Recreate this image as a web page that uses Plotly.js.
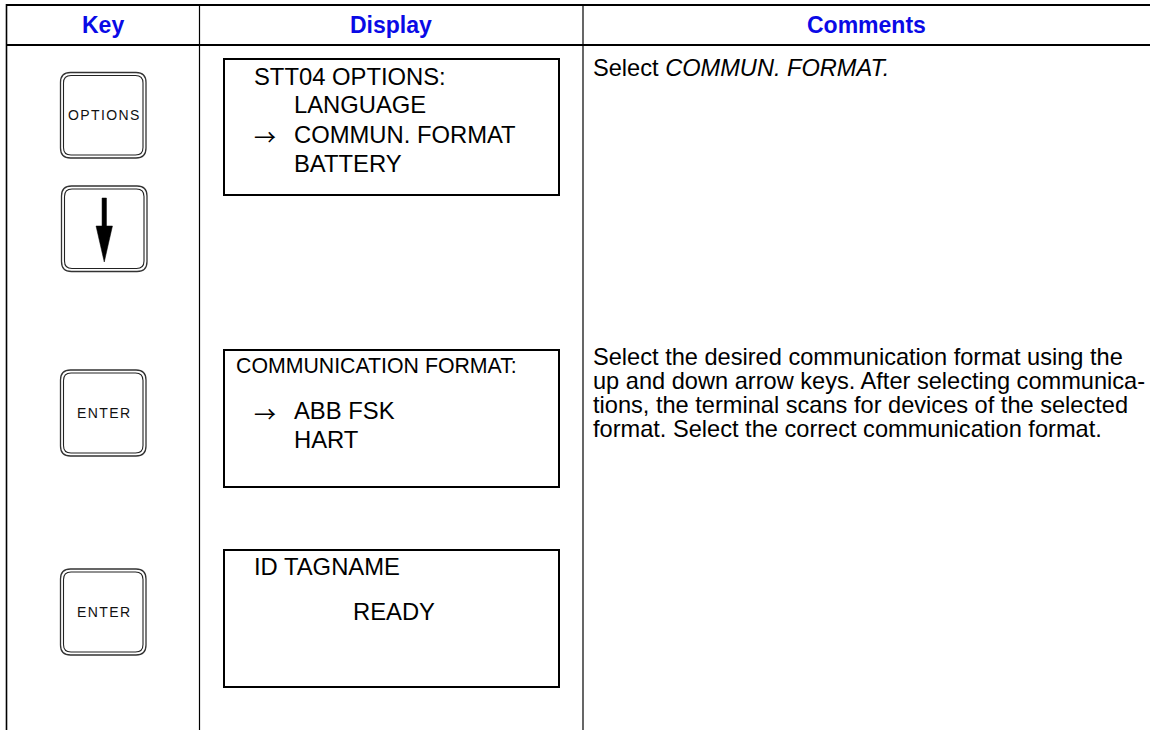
<!DOCTYPE html>
<html>
<head>
<meta charset="utf-8">
<script src="https://cdn.plot.ly/plotly-3.0.1.min.js"></script>
<style>
  html, body { margin: 0; padding: 0; background: #ffffff; }
  #chart { width: 1150px; height: 730px; }
</style>
</head>
<body>
<div id="chart"></div>
<script>
// ---------------- DATA ----------------
const columnHeaders = ['Key', 'Display', 'Comments'];
const keyLabels = ['OPTIONS', 'DOWN', 'ENTER', 'ENTER'];
const screen1Lines = ['STT04 OPTIONS:', 'LANGUAGE', 'COMMUN. FORMAT', 'BATTERY'];
const screen1Pointer = [false, false, true, false];
const screen2Title = ['COMMUNICATION FORMAT:'];
const screen2Lines = ['ABB FSK', 'HART'];
const screen2Pointer = [true, false];
const screen3Lines = ['ID TAGNAME'];
const screen3Status = ['READY'];
const comment1Lines = ['Select <i>COMMUN. FORMAT.</i>'];
const comment2Lines = [
  'Select the desired communication format using the',
  'up and down arrow keys. After selecting communica-',
  'tions, the terminal scans for devices of the selected',
  'format. Select the correct communication format.'
];
const pointerSymbol = '\u2192';

// ---------------- LAYOUT / STYLE ----------------
const W = 1150, H = 730;
const FONT = 'Liberation Sans, Arial, Helvetica, sans-serif';
const ARROW_FONT = 'Noto Sans CJK JP, DejaVu Sans, sans-serif';
const BLUE = '#0a0ae6';
const colX = [6.5, 199.5, 583, 1151];
const headerCenterX = [103, 391, 866.5];
const topY = 5, headerY = 45, headerTextY = 25;

const keyBoxes = [
  [60.5, 72.5, 146, 158],
  [61.5, 186, 147, 271.5],
  [60.5, 370, 146, 456],
  [60.5, 569, 146, 655]
];
const screenBoxes = [
  [224, 59, 559, 195],
  [224, 350, 559, 487],
  [224, 550, 559, 687]
];
const screen1Y = [76.5, 104.5, 134, 163];
const screen2TitleY = [366];
const screen2Y = [410.5, 439];
const screen3Y = [566.5];
const screen3StatusY = [611.5];
const comment1Y = [68];
const comment2Y = [357, 381, 405, 429];

const textLeft = 252, textIndent = 291.5, titleLeft = 234, statusLeft = 351, commentLeft = 591;
const SCREEN_SIZE = 23.8, TITLE_SIZE = 21.3, COMMENT_SIZE = 23.6;

function rr(x0, y0, x1, y1, r) {
  return 'M' + (x0 + r) + ',' + y0 + ' L' + (x1 - r) + ',' + y0 +
    ' Q' + x1 + ',' + y0 + ' ' + x1 + ',' + (y0 + r) +
    ' L' + x1 + ',' + (y1 - r) +
    ' Q' + x1 + ',' + y1 + ' ' + (x1 - r) + ',' + y1 +
    ' L' + (x0 + r) + ',' + y1 +
    ' Q' + x0 + ',' + y1 + ' ' + x0 + ',' + (y1 - r) +
    ' L' + x0 + ',' + (y0 + r) +
    ' Q' + x0 + ',' + y0 + ' ' + (x0 + r) + ',' + y0 + ' Z';
}

const shapes = [];
function line(x0, y0, x1, y1, w) {
  shapes.push({type: 'line', xref: 'x', yref: 'y', x0: x0, y0: y0, x1: x1, y1: y1,
    line: {color: '#000000', width: w}});
}
// table grid
line(colX[0], topY, W, topY, 2.2);
line(colX[0], headerY, W, headerY, 2.2);
line(colX[0], topY - 1, colX[0], H, 1.6);
line(colX[1], topY, colX[1], H, 1.2);
line(colX[2], topY, colX[2], H, 1.2);

// key buttons
keyBoxes.forEach(function (b) {
  shapes.push({type: 'path', path: rr(b[0], b[1], b[2], b[3], 10),
    line: {color: '#333333', width: 1.3}, fillcolor: 'rgba(0,0,0,0)'});
  shapes.push({type: 'path', path: rr(b[0] + 3, b[1] + 3, b[2] - 3, b[3] - 3, 7.5),
    line: {color: '#222222', width: 1.1}, fillcolor: 'rgba(0,0,0,0)'});
});
// down-arrow glyph on second key
(function () {
  const b = keyBoxes[1];
  const cx = (b[0] + b[2]) / 2;
  shapes.push({type: 'path', path: 'M' + (cx - 2.2) + ',198 L' + (cx + 2.2) + ',198 L' + (cx + 2.2) + ',228 L' + (cx - 2.2) + ',228 Z',
    line: {color: '#000', width: 0.5}, fillcolor: '#000'});
  shapes.push({type: 'path', path: 'M' + (cx - 8.2) + ',226 L' + (cx + 8.2) + ',226 L' + cx + ',262 Z',
    line: {color: '#000', width: 0.5}, fillcolor: '#000'});
})();

// display screens
screenBoxes.forEach(function (b) {
  shapes.push({type: 'rect', x0: b[0], y0: b[1], x1: b[2], y1: b[3],
    line: {color: '#000000', width: 2}, fillcolor: 'rgba(0,0,0,0)'});
});

// ---------------- ANNOTATIONS ----------------
const annotations = [];
function txt(text, x, y, size, anchor, opts) {
  const a = {text: text, x: x, y: y, xref: 'x', yref: 'y', showarrow: false,
    xanchor: anchor, yanchor: 'middle', align: anchor === 'center' ? 'center' : 'left',
    font: Object.assign({family: FONT, size: size, color: '#000000'}, opts || {})};
  annotations.push(a);
}
columnHeaders.forEach(function (h, i) {
  txt('<b>' + h + '</b>', headerCenterX[i], headerTextY, 23, 'center', {color: BLUE});
});
keyLabels.forEach(function (k, i) {
  if (k === 'DOWN') return;
  const b = keyBoxes[i];
  txt('<span style="letter-spacing:1.4px">' + k + '</span>', (b[0] + b[2]) / 2 + 1, (b[1] + b[3]) / 2, 14, 'center', {color: '#111111'});
});
function pointer(y) {
  txt(pointerSymbol, textLeft, y, 22, 'left', {family: ARROW_FONT});
}
screen1Lines.forEach(function (s, i) {
  const left = i === 0 ? textLeft : textIndent;
  txt(s, left, screen1Y[i], SCREEN_SIZE, 'left');
  if (screen1Pointer[i]) pointer(screen1Y[i] + 1);
});
screen2Title.forEach(function (s, i) { txt(s, titleLeft, screen2TitleY[i], TITLE_SIZE, 'left'); });
screen2Lines.forEach(function (s, i) {
  txt(s, textIndent, screen2Y[i], SCREEN_SIZE, 'left');
  if (screen2Pointer[i]) pointer(screen2Y[i] + 1);
});
screen3Lines.forEach(function (s, i) { txt(s, textLeft, screen3Y[i], SCREEN_SIZE, 'left'); });
screen3Status.forEach(function (s, i) { txt(s, statusLeft, screen3StatusY[i], SCREEN_SIZE, 'left'); });
comment1Lines.forEach(function (s, i) { txt(s, commentLeft, comment1Y[i], COMMENT_SIZE, 'left'); });
comment2Lines.forEach(function (s, i) { txt(s, commentLeft, comment2Y[i], COMMENT_SIZE, 'left'); });

const layout = {
  width: W, height: H,
  margin: {l: 0, r: 0, t: 0, b: 0, pad: 0},
  paper_bgcolor: '#ffffff', plot_bgcolor: '#ffffff',
  showlegend: false,
  xaxis: {range: [0, W], visible: false, fixedrange: true},
  yaxis: {range: [H, 0], visible: false, fixedrange: true},
  shapes: shapes,
  annotations: annotations
};
Plotly.newPlot('chart', [], layout, {staticPlot: true, displayModeBar: false});
</script>
</body>
</html>
